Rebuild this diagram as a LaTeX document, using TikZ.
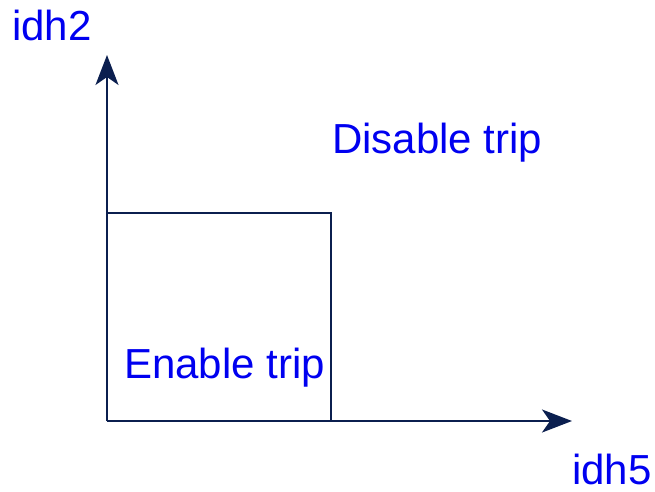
\documentclass[tikz,border=0pt]{standalone}
\usepackage{fontspec}
\setmainfont{Liberation Sans}
\usetikzlibrary{arrows.meta}
\definecolor{axisnavy}{HTML}{0B1F4F}
\definecolor{lblblue}{HTML}{0000F0}
\tikzset{
  axisline/.style={draw=axisnavy, line width=2pt, -{Stealth[length=30pt,width=23pt,inset=8pt]}},
  boxline/.style={draw=axisnavy, line width=2pt, line cap=rect},
  lbl/.style={text=lblblue, font=\fontsize{42}{50}\selectfont, inner sep=0pt, anchor=base west}
}
\begin{document}
\begin{tikzpicture}[x=1pt,y=-1pt]
\useasboundingbox (0,0) rectangle (655,491);
\coordinate (O) at (107,421);
\coordinate (ytip) at (107,55);
\coordinate (xtip) at (572,421);
\coordinate (tl) at (107,213);
\coordinate (tr) at (331,213);
\coordinate (br) at (331,421);
\draw[boxline] (tl) -- (tr) -- (br);
\draw[axisline] (O) -- (ytip);
\draw[axisline] (O) -- (xtip);
\node[lbl] (ylab) at (12,40) {idh2};
\node[lbl] (xlab) at (572,484) {idh5};
\node[lbl] (dis) at (332,153) {Disable trip};
\node[lbl] (en) at (124,378) {Enable trip};
\end{tikzpicture}
\end{document}
